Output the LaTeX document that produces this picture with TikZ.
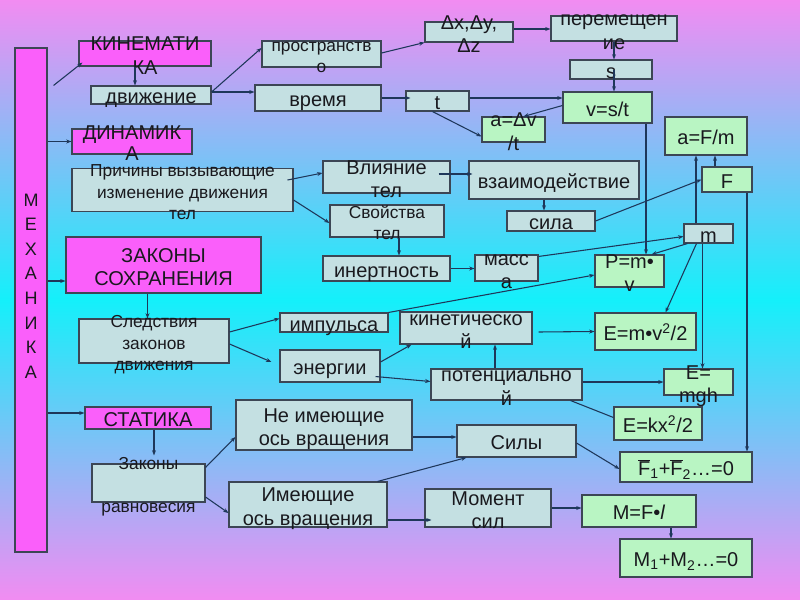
\documentclass[tikz,border=0pt]{standalone}
\usepackage{fontspec}
\setmainfont{Liberation Sans}
\usetikzlibrary{arrows.meta,calc}
\definecolor{bgpink}{RGB}{242,140,242}
\definecolor{bgcyan}{RGB}{20,240,250}
\definecolor{magbox}{RGB}{250,95,250}
\definecolor{greybox}{RGB}{196,224,226}
\definecolor{grnbox}{RGB}{185,245,195}
\definecolor{boxline}{RGB}{60,70,85}
\definecolor{wirecol}{RGB}{30,55,90}
\definecolor{txtcol}{RGB}{25,25,30}
% text that may run out of its box
\newcommand{\ovl}[1]{\smash{\raisebox{-.45em}{\begin{tabular}[c]{@{}c@{}}#1\end{tabular}}}}
\tikzset{
  mbox/.style = {draw=boxline, line width=0.8pt, fill=magbox, inner sep=1pt},
  gbox/.style = {draw=boxline, line width=0.8pt, fill=greybox, inner sep=1pt},
  frml/.style = {draw=boxline, line width=0.8pt, fill=grnbox, inner sep=1pt},
  wh/.style 2 args = {minimum width=#1*0.75pt, minimum height=#2*0.75pt},
  wire/.style = {line width=0.8pt, wirecol},
  arr/.style  = {wire, -{Stealth[length=4pt,width=3pt]}},
  sm/.style   = {font=\fontsize{13}{16}\selectfont},
}
\begin{document}
\begin{tikzpicture}[x=0.75pt,y=-0.75pt,font=\fontsize{15}{17.5}\selectfont,text=txtcol]
  \shade[top color=bgpink,bottom color=bgpink,middle color=bgcyan] (0,0) rectangle (800,600);

  % sections
  \node[mbox,wh={32}{504}] (mech) at (31,300) {};
  \node[font=\fontsize{13.5}{18.4}\selectfont] (mechtxt) at ($(mech)+(0,-16)$) {\ovl{М\\Е\\Х\\А\\Н\\И\\К\\А}};
  \node[mbox,wh={132}{25}] (kin) at (145,53.5) {\ovl{КИНЕМАТИ\\КА}};
  \node[mbox,wh={120}{25},font=\fontsize{15}{16}\selectfont] (din) at (132,141.5) {\ovl{ДИНАМИК\\А}};
  \node[mbox,wh={195}{56}] (zs) at (163.5,265) {\ovl{ЗАКОНЫ\\СОХРАНЕНИЯ}};
  \node[mbox,wh={126}{22}] (stat) at (148,418) {\ovl{СТАТИКА}};

  % notions
  \node[gbox,wh={120}{18}] (dv) at (151,95) {\ovl{движение}};
  \node[gbox,wh={119}{26},sm] (prost) at (321.5,54) {\ovl{пространств\\о}};
  \node[gbox,wh={126}{26}] (vrem) at (318,98) {\ovl{время}};
  \node[gbox,wh={88}{20}] (dxyz) at (469,32) {\ovl{Δx,Δy,\\Δz}};
  \node[gbox,wh={126}{25}] (perem) at (614,28.5) {\ovl{перемещен\\ие}};
  \node[gbox,wh={82}{19}] (s) at (611,69.5) {\ovl{s}};
  \node[gbox,wh={63}{20}] (t) at (437.5,101) {\ovl{t}};
  \node[gbox,wh={221}{43},sm] (prich) at (182.5,190) {\ovl{Причины вызывающие\\изменение движения\\тел}};
  \node[gbox,wh={127}{32}] (vliy) at (386.5,177) {\ovl{Влияние\\тел}};
  \node[gbox,wh={114}{32},sm] (svoy) at (387,221) {\ovl{Свойства\\тел}};
  \node[gbox,wh={170}{38}] (vzai) at (554,180) {\ovl{взаимодействие}};
  \node[gbox,wh={88}{20}] (sila) at (551,221) {\ovl{сила}};
  \node[gbox,wh={49}{19}] (m) at (708.5,233.5) {\ovl{m}};
  \node[gbox,wh={127}{25}] (inert) at (386.5,268.5) {\ovl{инертность}};
  \node[gbox,wh={63}{26}] (massa) at (506.5,268) {\ovl{масс\\а}};
  \node[gbox,wh={150}{44},sm] (sled) at (154,341) {\ovl{Следствия\\законов\\движения}};
  \node[gbox,wh={108}{19}] (imp) at (334,322.5) {\ovl{импульса}};
  \node[gbox,wh={132}{32}] (kinet) at (466,328) {\ovl{кинетическо\\й}};
  \node[gbox,wh={100}{32}] (energ) at (330,366) {\ovl{энергии}};
  \node[gbox,wh={151}{31}] (pot) at (506.5,384.5) {\ovl{потенциально\\й}};
  \node[gbox,wh={176}{50}] (neim) at (324,425) {\ovl{Не имеющие\\ось вращения}};
  \node[gbox,wh={113}{38},sm] (zr) at (148.5,483) {\ovl{Законы\\ \\равновесия}};
  \node[gbox,wh={119}{32}] (sily) at (516.5,441) {\ovl{Силы}};
  \node[gbox,wh={158}{45}] (imeyu) at (308,504.5) {\ovl{Имеющие\\ось вращения}};
  \node[gbox,wh={126}{38}] (moment) at (488,508) {\ovl{Момент\\сил}};

  % formulas
  \node[frml,wh={89}{31}] (vst) at (607.5,107.5) {\ovl{v=s/t}};
  \node[frml,wh={63}{25}] (adv) at (513.5,129.5) {\ovl{a=Δv\\/t}};
  \node[frml,wh={82}{38}] (afm) at (706,136) {\ovl{a=F/m}};
  \node[frml,wh={50}{25}] (F) at (727,179.5) {\ovl{F}};
  \node[frml,wh={69}{32}] (pmv) at (629.5,271) {\ovl{P=m•\\v}};
  \node[frml,wh={101}{37}] (ekin) at (645.5,331.5) {\ovl{E=m•v\textsuperscript{2}/2}};
  \node[frml,wh={69}{26}] (emgh) at (698.5,382) {\ovl{E=\\mgh}};
  \node[frml,wh={88}{33}] (ekx) at (658,423.5) {\ovl{E=kx\textsuperscript{2}/2}};
  \node[frml,wh={132}{30}] (f12) at (686,467) {\ovl{$\overline{\mbox{F}}$\textsubscript{1}+$\overline{\mbox{F}}$\textsubscript{2}…=0}};
  \node[frml,wh={114}{32}] (mfl) at (639,511) {\ovl{M=F•\textit{l}}};
  \node[frml,wh={132}{38}] (m12) at (686,558) {\ovl{M\textsubscript{1}+M\textsubscript{2}…=0}};

  % connectors
  \draw[arr] ($(mech.north east)+(6,38)$) -- ($(kin.south west)+(4,-4)$);
  \draw[arr] (mech.east |- din.west) -- (din.west);
  \draw[arr] ($(mech.east)+(0,-19)$) -- ($(zs.west)+(0,16)$);
  \draw[arr] ($(mech.east)+(0,113)$) -- ($(stat.west)+(0,-5)$);
  \draw[arr] ($(kin.south)+(-10,0)$) -- ($(dv.north)+(-16,0)$);
  \draw[arr] ($(dv.east)+(0,-3)$) -- ($(prost.west)+(0,-6)$);
  \draw[arr] ($(dv.east)+(0,-3)$) -- ($(vrem.west)+(0,-6)$);
  \draw[arr] ($(prost.east)+(0,-1)$) -- (dxyz.south west);
  \draw[arr] ($(dxyz.east)+(0,-3)$) -- ($(perem.west)+(0,0.5)$);
  \draw[arr] (perem.south) -- (perem.south |- s.north);
  \draw[arr] (perem.south |- s.center) -- (perem.south |- vst.north);
  \draw[arr] (vrem.east) -- ($(vrem.east -| t.west)+(5,0)$);
  \draw[arr] ($(t.east)+(0,-3)$) -- ($(vst.west)+(0,-9.5)$);
  \draw[arr] ($(t.south)+(-5,0)$) -- ($(adv.west)+(0,7)$);
  \draw[arr] ($(vst.west)+(0,-2)$) -- ($(adv.north)+(10,0)$);
  \draw[arr] ($(vst.south)+(38.5,0)$) -- ($(pmv.north)+(16.5,0)$);
  \draw[arr] ($(prich.east)+(-6,-10)$) -- ($(vliy.west)+(0,-4)$);
  \draw[arr] ($(prich.east)+(0,10)$) -- ($(svoy.west)+(0,2)$);
  \draw[arr] ($(vliy.east)+(-12,-3)$) -- ($(vzai.west)+(4,-6)$);
  \draw[arr] ($(svoy.south)+(12,0)$) -- ($(inert.north)+(12.5,0)$);
  \draw[arr] ($(vzai.south)+(-10,0)$) -- ($(sila.north)+(-7,0)$);
  \draw[arr] (sila.east) -- (F.west);
  \draw[arr] ($(F.north)+(-12,0)$) -- ($(afm.south)+(9,0)$);
  \draw[arr] ($(m.north)+(-12.5,0)$) -- ($(afm.south)+(-10,0)$);
  \draw[arr] (inert.east) -- (inert.east -| massa.west);
  \draw[arr] ($(massa.north east)+(0,2)$) -- ($(m.west)+(0,3)$);
  \draw[arr] ($(m.south west)+(4,0)$) -- ($(pmv.north)+(22,0)$);
  \draw[arr] (imp.north east) -- ($(pmv.west)+(0,4)$);
  \draw[arr] ($(m.south)+(-12,0)$) -- ($(ekin.north)+(20,0)$);
  \draw[arr] ($(m.south)+(-6,0)$) -- ($(emgh.north)+(4,0)$);
  \draw[arr] ($(F.south)+(20,0)$) -- ($(f12.north)+(61,0)$);
  \draw[arr] ($(sled.east)+(0,-9)$) -- ($(imp.west)+(0,-4)$);
  \draw[arr] ($(sled.east)+(0,3)$) -- ($(energ.west)+(-8,-4)$);
  \draw[arr] ($(energ.east)+(0,-4)$) -- ($(kinet.south west)+(12,0)$);
  \draw[arr] ($(energ.south east)+(-5,-6)$) -- ($(pot.west)+(0,-3)$);
  \draw[arr] ($(pot.north)+(-11.5,0)$) -- ($(kinet.south)+(29,0)$);
  \draw[arr] ($(kinet.east)+(6,4)$) -- (ekin.west);
  \draw[arr] ($(pot.east)+(0,-2.5)$) -- (emgh.west);
  \draw[wire] ($(pot.south east)+(-12,0)$) -- ($(ekx.west)+(0,-6)$);
  \draw[arr] ($(zs.south)+(-16,0)$) -- ($(sled.north)+(-6.5,0)$);
  \draw[arr] ($(stat.south)+(6,0)$) -- ($(zr.north)+(5.5,-8)$);
  \draw[arr] ($(zr.north east)+(0,4)$) -- ($(neim.west)+(0,12)$);
  \draw[arr] ($(zr.east)+(0,14)$) -- ($(imeyu.west)+(0,8.5)$);
  \draw[arr] ($(neim.east)+(0,12)$) -- ($(sily.west)+(0,-4)$);
  \draw[arr] ($(imeyu.north east)+(-10,0)$) -- ($(sily.south west)+(10,0)$);
  \draw[arr] ($(imeyu.east)+(0,15.5)$) -- ($(moment.west)+(7,12)$);
  \draw[arr] ($(sily.east)+(0,2)$) -- ($(f12.west)+(0,2)$);
  \draw[arr] (moment.east) -- (moment.east -| mfl.west);
  \draw[arr] ($(mfl.south)+(32,0)$) -- ($(m12.north)+(-15,0)$);
\end{tikzpicture}
\end{document}
